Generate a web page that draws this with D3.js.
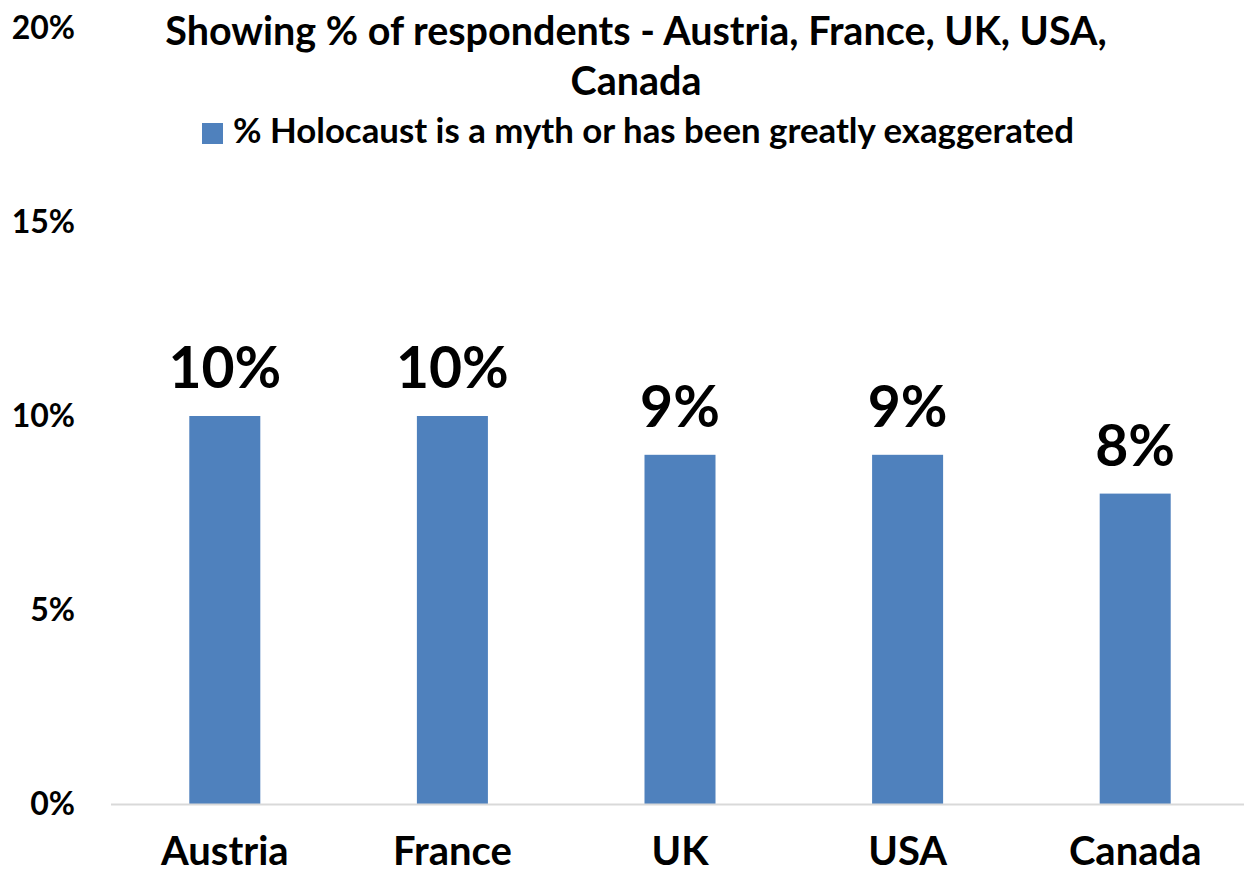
<!DOCTYPE html>
<html>
<head>
<meta charset="utf-8">
<script src="https://cdn.jsdelivr.net/npm/d3@7"></script>
<style>
  body { margin: 0; background: #fff; }
  svg { display: block; font-family: Lato, "Open Sans", sans-serif; font-weight: bold; }
</style>
</head>
<body>
<svg id="chart" width="1244" height="876"></svg>
<script>
// data
const countries = ["Austria", "France", "UK", "USA", "Canada"];
const shares = [10, 10, 9, 9, 8];
const yTicks = [0, 5, 10, 15, 20];
const seriesName = "% Holocaust is a myth or has been greatly exaggerated";
const titleLines = ["Showing % of respondents - Austria, France, UK, USA,", "Canada"];

const width = 1244;
const height = 876;
const barColor = "#4f81bd";

const svg = d3.select("#chart");

// scales
const x = d3.scaleBand()
  .domain(countries)
  .range([111, 1249])
  .paddingInner(0.688)
  .paddingOuter(0.344);

const y = d3.scaleLinear()
  .domain([0, 20])
  .range([804, 28]);

// title
svg.append("g")
  .selectAll("text")
  .data(titleLines)
  .join("text")
  .attr("x", 636)
  .attr("y", (d, i) => 45 + i * 50)
  .attr("text-anchor", "middle")
  .attr("font-size", 39.5)
  .attr("fill", "#000")
  .text(d => d);

// legend
const legend = svg.append("g").attr("transform", "translate(202,123)");
legend.append("rect").attr("width", 21).attr("height", 21).attr("fill", barColor);
legend.append("text")
  .attr("x", 31)
  .attr("y", 20)
  .attr("font-size", 34.8)
  .text(seriesName);

// y axis, labels only
const yAxis = d3.axisLeft(y)
  .tickValues(yTicks)
  .tickSize(0)
  .tickPadding(0)
  .tickFormat(d => d + "%");

svg.append("g")
  .attr("transform", "translate(75,0)")
  .call(yAxis)
  .attr("font-family", null)
  .attr("font-size", 32)
  .call(g => g.select(".domain").remove())
  .call(g => g.selectAll("text").attr("fill", "#000"));

// bars
svg.append("g")
  .selectAll("rect")
  .data(countries)
  .join("rect")
  .attr("x", d => x(d))
  .attr("y", (d, i) => y(shares[i]))
  .attr("width", x.bandwidth())
  .attr("height", (d, i) => y(0) - y(shares[i]))
  .attr("fill", barColor);

// data labels
svg.append("g")
  .selectAll("text")
  .data(countries)
  .join("text")
  .attr("x", d => x(d) + x.bandwidth() / 2)
  .attr("y", (d, i) => y(shares[i]) - 28)
  .attr("text-anchor", "middle")
  .attr("font-size", 57)
  .text((d, i) => shares[i] + "%");

// x axis
const xAxis = d3.axisBottom(x).tickSize(0).tickPadding(0);

svg.append("g")
  .attr("transform", `translate(0,${y(0)})`)
  .call(xAxis)
  .attr("font-family", null)
  .attr("font-size", 40)
  .call(g => g.select(".domain")
    .attr("d", "M111,0.5H1244")
    .attr("stroke", "#d9d9d9")
    .attr("stroke-width", 2))
  .call(g => g.selectAll("text")
    .attr("fill", "#000")
    .attr("dy", null)
    .attr("y", 61));
</script>
</body>
</html>
